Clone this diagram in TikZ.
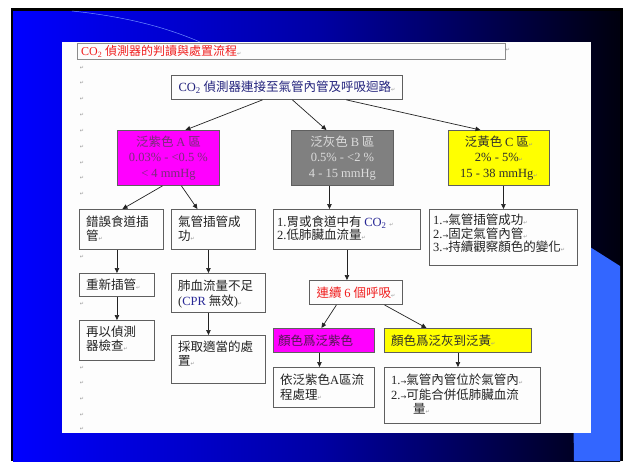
\documentclass[tikz,border=0pt]{standalone}
\usepackage{fontspec}
\setmainfont{Noto Sans CJK TC}
\newfontfamily\latfont{Liberation Serif}
\newfontfamily\dvfont{DejaVu Sans}
\usetikzlibrary{arrows.meta}
\definecolor{slideblue}{RGB}{0,0,255}
\definecolor{slidemid}{RGB}{0,0,165}
\definecolor{slidedark}{RGB}{0,0,14}
\definecolor{lightslide}{RGB}{51,102,255}
\definecolor{arcblue}{RGB}{110,140,255}
\definecolor{paper}{RGB}{253,253,253}
\definecolor{boxgray}{RGB}{95,95,95}
\definecolor{titlegray}{RGB}{140,140,140}
\definecolor{textdark}{RGB}{35,35,35}
\definecolor{topblue}{RGB}{35,35,125}
\definecolor{titlered}{RGB}{240,30,30}
\definecolor{magentafill}{RGB}{255,0,255}
\definecolor{grayfill}{RGB}{128,128,128}
\definecolor{yellowfill}{RGB}{255,255,0}
\definecolor{atext}{RGB}{120,45,120}
\definecolor{btext}{RGB}{220,220,220}
\definecolor{ctext}{RGB}{45,45,45}
\definecolor{ptext}{RGB}{80,25,80}
\definecolor{retgray}{RGB}{150,150,150}
\definecolor{cpblue}{RGB}{40,40,150}
\definecolor{arrowcol}{RGB}{35,35,35}
\newcommand\romn[1]{{\latfont #1}}
\newcommand\retm{{\dvfont\fontsize{5}{5}\selectfont\textcolor{retgray}{↵}}}
\newcommand\tabm{{\dvfont\fontsize{7}{7}\selectfont →}}
\begin{document}
\begin{tikzpicture}[x=1pt,y=-1pt,
  box/.style={draw=boxgray, line width=0.9pt, inner sep=0pt, anchor=north west},
  txt/.style={anchor=north west, inner sep=0pt, align=left, text=textdark, font=\fontsize{12.5}{14.5}\selectfont},
  ctr/.style={align=center, font=\fontsize{12.5}{15.5}\selectfont},
  arr/.style={draw=arrowcol, line width=0.7pt, -{Triangle[length=5pt,width=4.5pt]}},
  retnode/.style={inner sep=0pt, font=\dvfont\fontsize{5}{5}\selectfont, text=retgray}]
\useasboundingbox (0,0) rectangle (626,461);
% slide background
\fill[white] (0,0) rectangle (626,461);
\fill[black] (11,8) rectangle (623,461);
\shade[left color=slideblue, right color=slidedark, middle color=slidemid] (13,11) rectangle (620,461);
\fill[lightslide] (574,461) -- (571,250) -- (590,247) -- (620,266) -- (620,461) -- cycle;
\draw[arcblue, line width=0.5pt] (72,11) .. controls (130,17) and (170,29) .. (200,42);
\fill[paper] (62,42) rectangle (591,433);
% title
\node[box, draw=titlegray, line width=0.8pt, minimum width=428, minimum height=16] (title) at (77,43) {};
\node[anchor=west, inner sep=0pt, text=titlered, font=\fontsize{12}{14}\selectfont] (titlet) at ([xshift=4]title.west) {\romn{CO\textsubscript{2}} 偵測器的判讀與處置流程\retm};
\node[retnode] (tm) at (508,50) {↵};
% margin return marks
\foreach \yy [count=\i] in {68,83,99,115,131,147,163,178,194,257,304,368,383,399,415,429}
  \node[retnode] (m\i) at (82,\yy) {↵};
% top box
\node[box, ctr, minimum width=231, minimum height=24, text=topblue] (top) at (171,75) {\romn{CO\textsubscript{2}} 偵測器連接至氣管內管及呼吸迴路\retm};
% zone boxes
\node[box, ctr, fill=magentafill, text=atext, minimum width=102, minimum height=55] (A) at (117,130)
  {泛紫色 \romn{A} 區\\ \romn{0.03\% - <0.5 \%}\\ \romn{< 4 mmHg}};
\node[box, ctr, fill=grayfill, text=btext, minimum width=102, minimum height=55] (B) at (291,130)
  {泛灰色 \romn{B} 區\\ \romn{0.5\% - <2 \%}\\ \romn{4 - 15 mmHg}};
\node[box, ctr, fill=yellowfill, text=ctext, minimum width=101, minimum height=55] (C) at (448,130)
  {泛黃色 \romn{C} 區\retm\\ \romn{2\% - 5\%}\retm\\ \romn{15 - 38 mmHg}\retm};
% second row
\node[box, minimum width=84, minimum height=40] (e1) at (79,209) {};
\node[txt] (e1t) at ([shift={(7,6.5)}]e1.north west) {錯誤食道插\\管\retm};
\node[box, minimum width=84, minimum height=40] (s1) at (171,209) {};
\node[txt] (s1t) at ([shift={(7,6.5)}]s1.north west) {氣管插管成\\功\retm};
\node[box, minimum width=147, minimum height=40] (Bc) at (273,209) {};
\node[txt, font=\fontsize{12.5}{13.5}\selectfont] (Bct) at ([shift={(4,6.5)}]Bc.north west) {\romn{1.}胃或食道中有 \textcolor{cpblue}{\romn{CO\textsubscript{2}}} \retm\\ \romn{2.}低肺臟血流量\retm};
\node[box, minimum width=148, minimum height=56] (Cc) at (429,209) {};
\node[txt, font=\fontsize{12.5}{13.5}\selectfont] (Cct) at ([shift={(4,5)}]Cc.north west) {\romn{1.}\tabm 氣管插管成功\retm\\ \romn{2.}\tabm 固定氣管內管\retm\\ \romn{3.}\tabm 持續觀察顏色的變化\retm};
% left column
\node[box, minimum width=75, minimum height=23] (e2) at (79,273) {};
\node[txt, anchor=west] (e2t) at ([xshift=7]e2.west) {重新插管\retm};
\node[box, minimum width=75, minimum height=40] (e3) at (79,320) {};
\node[txt] (e3t) at ([shift={(7,5.5)}]e3.north west) {再以偵測\\器檢查\retm};
% second column
\node[box, minimum width=94, minimum height=39] (s2) at (171,273) {};
\node[txt] (s2t) at ([shift={(7,7)}]s2.north west) {肺血流量不足\\ \romn{(}\textcolor{cpblue}{\romn{CPR}} 無效\romn{)}\retm};
\node[box, minimum width=94, minimum height=48] (s3) at (171,335) {};
\node[txt] (s3t) at ([shift={(7,5.5)}]s3.north west) {採取適當的處\\置\retm};
% B branch
\node[box, ctr, text=titlered, minimum width=93, minimum height=24] (r) at (309,280) {連續 \romn{6} 個呼吸\retm};
\node[box, fill=magentafill, minimum width=101, minimum height=24] (p) at (273,328) {};
\node[txt, anchor=west, text=ptext] (pt) at ([xshift=5]p.west) {顏色爲泛紫色};
\node[box, fill=yellowfill, minimum width=147, minimum height=24] (yb) at (384,328) {};
\node[txt, anchor=west, text=ctext] (ybt) at ([xshift=7]yb.west) {顏色爲泛灰到泛黃\retm};
\node[box, minimum width=101, minimum height=40] (q) at (273,367) {};
\node[txt] (qt) at ([shift={(7,7)}]q.north west) {依泛紫色\romn{A}區流\\程處理\retm};
\node[box, minimum width=156, minimum height=56] (z) at (384,367) {};
\node[txt] (zt) at ([shift={(7,7)}]z.north west) {\romn{1.}\tabm 氣管內管位於氣管內\retm\\ \romn{2.}\tabm 可能合併低肺臟血流\\ \hspace*{22pt}量\retm};
% connectors
\draw[arr] ([xshift=-24.5]top.south) -- ([xshift=17]A.north);
\draw[arr] ([xshift=5.5]top.south) -- ([xshift=-16]B.north);
\draw[arr] ([xshift=59.5]top.south) -- ([xshift=-18.5]C.north);
\draw[arr] ([xshift=-6]A.south) -- ([xshift=1]e1.north);
\draw[arr] ([xshift=13]A.south) -- ([xshift=-16]s1.north);
\draw[arr] ([xshift=-13]B.south) -- ([xshift=-13]B.south |- Bc.north);
\draw[arr] (C.south -| Cc.north) -- (Cc.north);
\draw[arr] (e1.south -| e2.north) -- (e2.north);
\draw[arr] (e2.south -| e3.north) -- (e3.north);
\draw[arr] ([xshift=-5]s1.south) -- ([xshift=-5]s1.south |- s2.north);
\draw[arr] ([xshift=-10]s2.south) -- ([xshift=-10]s2.south |- s3.north);
\draw[arr] (Bc.south) -- (Bc.south |- r.north);
\draw[arr] ([xshift=-19.5]r.south) -- ([xshift=-2.5]p.north);
\draw[arr] ([xshift=28.5]r.south) -- ([xshift=-31.5]yb.north);
\draw[arr] ([xshift=-4.5]p.south) -- ([xshift=-4.5]p.south |- q.north);
\draw[arr] (yb.south) -- (yb.south |- z.north);
\end{tikzpicture}
\end{document}
